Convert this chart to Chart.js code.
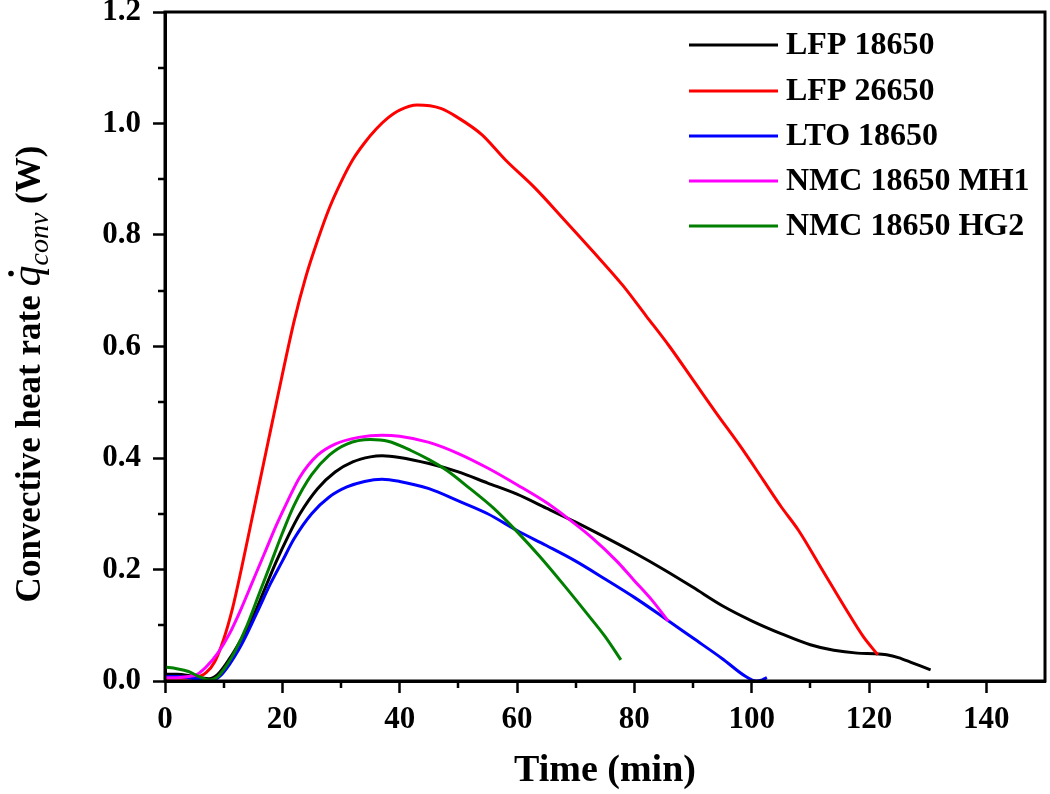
<!DOCTYPE html>
<html>
<head>
<meta charset="utf-8">
<script src="https://cdn.jsdelivr.net/npm/chart.js@4.4.1/dist/chart.umd.min.js"></script>
<style>
  html, body { margin: 0; padding: 0; background: #fff; }
  #wrap { width: 1050px; height: 794px; }
</style>
</head>
<body>
<div id="wrap"><canvas id="heatChart" width="1050" height="794"></canvas></div>
<script>
// Series labels and colours
const seriesLabels = ['LFP 18650', 'LFP 26650', 'LTO 18650', 'NMC 18650 MH1', 'NMC 18650 HG2'];
const seriesColors = ['#000000', '#ff0000', '#0000ff', '#ff00ff', '#007f00'];

// Time (min) and convective heat rate (W)
const lfp18650Time = [0, 2, 4, 6, 7.5, 9, 11, 13, 15, 17, 19, 21, 23, 26, 29, 32, 35, 37, 40, 45, 50, 55, 60, 65, 70, 75, 80, 85, 90, 95, 100, 105, 110, 114, 118, 121, 123, 125, 127.5, 130.5];
const lfp18650Rate = [0.012, 0.012, 0.01, 0.006, 0.004, 0.012, 0.04, 0.075, 0.115, 0.165, 0.215, 0.26, 0.3, 0.345, 0.375, 0.393, 0.402, 0.404, 0.401, 0.39, 0.375, 0.355, 0.335, 0.31, 0.285, 0.258, 0.23, 0.2, 0.168, 0.135, 0.108, 0.085, 0.065, 0.055, 0.05, 0.049, 0.047, 0.042, 0.032, 0.02];

const lfp26650Time = [0, 3, 5, 7, 8.5, 10, 11.5, 13, 14.5, 16, 17.5, 19, 22, 24, 26, 28, 30, 32, 34, 36, 38, 40, 43, 47, 50, 54, 58, 63, 68, 73, 78, 82, 86, 90, 94, 98, 102, 105, 108, 112, 116, 119, 121.5];
const lfp26650Rate = [0.005, 0.005, 0.006, 0.015, 0.035, 0.075, 0.13, 0.2, 0.275, 0.35, 0.425, 0.5, 0.645, 0.725, 0.79, 0.848, 0.895, 0.935, 0.965, 0.99, 1.01, 1.024, 1.033, 1.027, 1.01, 0.98, 0.935, 0.885, 0.828, 0.77, 0.71, 0.655, 0.6, 0.54, 0.48, 0.422, 0.36, 0.313, 0.27, 0.2, 0.13, 0.08, 0.047];

const lto18650Time = [0, 2, 4, 6, 8, 9.5, 11, 12.5, 14, 16, 18, 20, 22, 25, 28, 31, 34, 37, 40, 45, 50, 55, 60, 65, 70, 75, 80, 85, 90, 95, 99, 100.8, 101.8, 102.6];
const lto18650Rate = [0.008, 0.008, 0.006, 0.003, 0.0, 0.01, 0.03, 0.055, 0.085, 0.13, 0.175, 0.215, 0.255, 0.3, 0.33, 0.348, 0.358, 0.362, 0.358, 0.345, 0.323, 0.3, 0.27, 0.243, 0.215, 0.183, 0.15, 0.114, 0.077, 0.04, 0.008, 0.0, 0.002, 0.006];

const mh1Time = [0, 2, 4, 5.5, 7, 9, 11, 13, 15, 17, 19, 21, 23, 26, 29, 33, 37, 40, 45, 50, 55, 60, 65, 69, 73, 77, 80, 83, 85.8];
const mh1Rate = [0.006, 0.006, 0.008, 0.012, 0.025, 0.05, 0.085, 0.13, 0.18, 0.23, 0.28, 0.325, 0.366, 0.405, 0.425, 0.437, 0.441, 0.439, 0.428, 0.408, 0.382, 0.352, 0.32, 0.289, 0.255, 0.215, 0.18, 0.145, 0.107];

const hg2Time = [0, 2, 4, 6, 7.5, 9, 10.5, 12, 14, 16, 18, 20, 22, 25, 28, 31, 35, 38, 42, 45, 48, 52, 56, 60, 64, 68, 72, 75, 77.7];
const hg2Rate = [0.025, 0.022, 0.017, 0.007, 0.002, 0.008, 0.028, 0.055, 0.1, 0.155, 0.21, 0.265, 0.315, 0.37, 0.405, 0.425, 0.433, 0.43, 0.413, 0.397, 0.378, 0.345, 0.31, 0.268, 0.222, 0.172, 0.12, 0.08, 0.038];

// Axis ticks
const xTicks = [0, 20, 40, 60, 80, 100, 120, 140];
const xMinorTicks = [10, 30, 50, 70, 90, 110, 130];
const yTicks = [0, 0.2, 0.4, 0.6, 0.8, 1.0, 1.2];
const yMinorTicks = [0.1, 0.3, 0.5, 0.7, 0.9, 1.1];

const seriesTimes = [lfp18650Time, lfp26650Time, lto18650Time, mh1Time, hg2Time];
const seriesRates = [lfp18650Rate, lfp26650Rate, lto18650Rate, mh1Rate, hg2Rate];

const SERIF = '"Liberation Serif", "Times New Roman", serif';

function toPoints(xs, ys) {
  return xs.map((x, i) => ({ x: x, y: ys[i] }));
}

// Frame, minor ticks, legend and y title (mixed fonts)
const extras = {
  id: 'extras',
  afterDraw(chart) {
    const { ctx, chartArea: a, scales } = chart;
    ctx.save();
    ctx.strokeStyle = '#000';
    ctx.lineWidth = 3;
    ctx.strokeRect(a.left, a.top, a.right - a.left, a.bottom - a.top);

    ctx.lineWidth = 2.5;
    ctx.beginPath();
    xMinorTicks.forEach(v => {
      const px = Math.round(scales.x.getPixelForValue(v));
      ctx.moveTo(px, a.bottom);
      ctx.lineTo(px, a.bottom + 7);
    });
    yMinorTicks.forEach(v => {
      const py = Math.round(scales.y.getPixelForValue(v));
      ctx.moveTo(a.left, py);
      ctx.lineTo(a.left - 7, py);
    });
    ctx.stroke();

    // legend
    const rows = [45, 91, 136, 181, 226];
    ctx.font = 'bold 32px ' + SERIF;
    ctx.textBaseline = 'middle';
    ctx.textAlign = 'left';
    chart.data.datasets.forEach((ds, i) => {
      ctx.strokeStyle = ds.borderColor;
      ctx.lineWidth = 3;
      ctx.beginPath();
      ctx.moveTo(689, rows[i]);
      ctx.lineTo(778, rows[i]);
      ctx.stroke();
      ctx.fillStyle = '#000';
      ctx.fillText(ds.label, 786, rows[i] + 1);
    });

    // y-axis title
    const parts = [
      { t: 'Convective heat rate ', f: 'bold 35px ' + SERIF, dy: 0 },
      { t: 'q', f: 'italic 42px ' + SERIF, dy: 0, dot: true },
      { t: 'conv', f: 'italic 28px ' + SERIF, dy: 8 },
      { t: ' (W)', f: 'bold 35px ' + SERIF, dy: 0 }
    ];
    let total = 0;
    parts.forEach(p => { ctx.font = p.f; p.w = ctx.measureText(p.t).width; total += p.w; });
    ctx.translate(40, 374);
    ctx.rotate(-Math.PI / 2);
    ctx.textBaseline = 'alphabetic';
    ctx.fillStyle = '#000';
    let x = -total / 2;
    parts.forEach(p => {
      ctx.font = p.f;
      ctx.fillText(p.t, x, p.dy);
      if (p.dot) {
        ctx.beginPath();
        ctx.arc(x + p.w * 0.62, -29, 2.8, 0, Math.PI * 2);
        ctx.fill();
      }
      x += p.w;
    });
    ctx.restore();
  }
};

new Chart(document.getElementById('heatChart'), {
  type: 'line',
  data: {
    datasets: seriesLabels.map((label, i) => ({
      label: label,
      data: toPoints(seriesTimes[i], seriesRates[i]),
      borderColor: seriesColors[i],
      backgroundColor: seriesColors[i],
      borderWidth: 3,
      pointRadius: 0,
      cubicInterpolationMode: 'monotone',
      fill: false,
      order: seriesLabels.length - i
    }))
  },
  options: {
    responsive: false,
    animation: false,
    layout: { padding: { top: 12, right: 5, left: 0, bottom: 0 } },
    plugins: {
      legend: { display: false },
      tooltip: { enabled: false }
    },
    scales: {
      x: {
        type: 'linear',
        min: 0,
        max: 150,
        afterBuildTicks: s => { s.ticks = xTicks.map(v => ({ value: v })); },
        afterFit: s => { s.height = 113; s.paddingLeft = 0; s.paddingRight = 0; },
        border: { color: '#000', width: 3 },
        grid: { drawOnChartArea: false, color: '#000', tickLength: 12, tickWidth: 2.5 },
        ticks: {
          color: '#000',
          padding: 8,
          maxRotation: 0,
          font: { family: SERIF, size: 31, weight: 'bold' },
          callback: v => String(v)
        },
        title: {
          display: true,
          text: 'Time (min)',
          color: '#000',
          font: { family: SERIF, size: 38, weight: 'bold' },
          padding: { top: 0, bottom: 0 }
        }
      },
      y: {
        min: 0,
        max: 1.2,
        afterBuildTicks: s => { s.ticks = yTicks.map(v => ({ value: v })); },
        afterFit: s => { s.width = 165; s.paddingTop = 0; s.paddingBottom = 0; },
        border: { color: '#000', width: 3 },
        grid: { drawOnChartArea: false, color: '#000', tickLength: 12, tickWidth: 2.5 },
        ticks: {
          color: '#000',
          padding: 12,
          font: { family: SERIF, size: 31, weight: 'bold' },
          callback: v => v.toFixed(1)
        }
      }
    }
  },
  plugins: [extras]
});
</script>
</body>
</html>
